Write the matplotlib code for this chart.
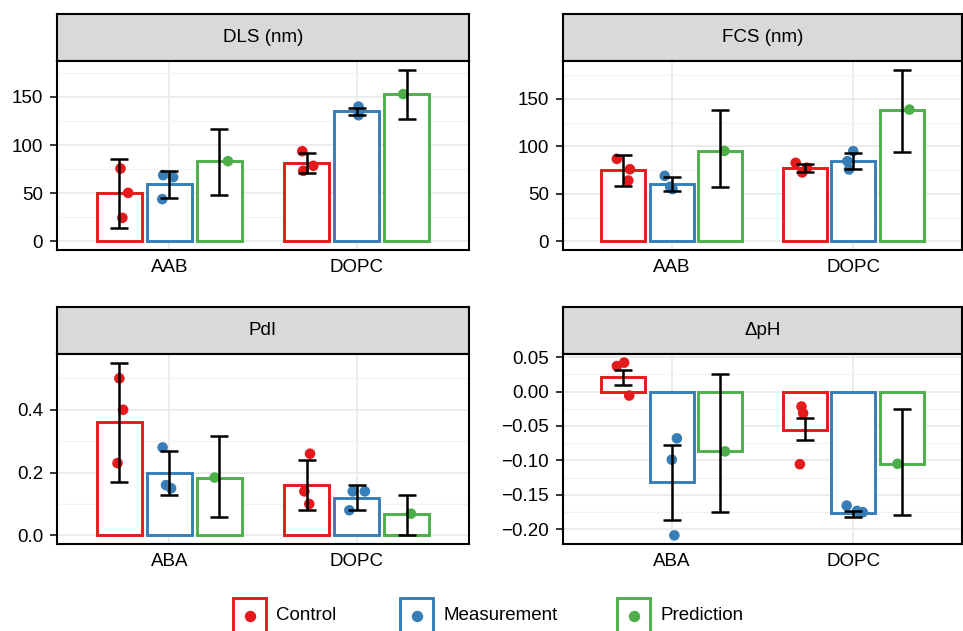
import numpy as np
import matplotlib.pyplot as plt
from matplotlib.patches import Rectangle
from matplotlib.lines import Line2D

plt.rcParams['font.family'] = ['Liberation Sans', 'DejaVu Sans']

# groups and conditions
groups_top = ['AAB', 'DOPC']
groups_bottom = ['ABA', 'DOPC']
conditions = ['Control', 'Measurement', 'Prediction']
colors = ['#E41A1C', '#377EB8', '#4DAF4A']

# bar order: group1 x (Control, Measurement, Prediction), group2 x (...)
dls_mean = [50.0, 59.5, 83.3, 81.8, 135.2, 153.1]
dls_lo = [14.2, 45.3, 48.7, 71.2, 131.7, 127.5]
dls_hi = [85.7, 72.6, 116.5, 92.3, 139.0, 178.4]
dls_pts = [[75.7, 50.4, 24.5], [68.8, 66.7, 43.9], [83.3],
           [93.7, 78.5, 73.3], [140.0, 135.0, 131.0], [153.0]]

fcs_mean = [75.4, 60.6, 95.3, 77.5, 84.8, 138.8]
fcs_lo = [58.5, 52.9, 57.1, 72.9, 76.0, 94.6]
fcs_hi = [91.5, 67.6, 138.8, 81.0, 93.2, 180.9]
fcs_pts = [[86.9, 76.0, 64.1], [69.0, 57.5, 55.0], [95.3],
           [82.7, 77.5, 72.6], [95.0, 84.5, 75.7], [138.8]]

pdi_mean = [0.36, 0.20, 0.184, 0.16, 0.119, 0.069]
pdi_lo = [0.17, 0.13, 0.057, 0.08, 0.08, 0.0]
pdi_hi = [0.55, 0.27, 0.317, 0.239, 0.16, 0.128]
pdi_pts = [[0.50, 0.40, 0.23], [0.28, 0.16, 0.15], [0.184],
           [0.26, 0.14, 0.10], [0.14, 0.14, 0.08], [0.069]]

dph_mean = [0.0208, -0.132, -0.0867, -0.0552, -0.177, -0.105]
dph_lo = [0.0092, -0.1865, -0.1744, -0.0707, -0.1827, -0.180]
dph_hi = [0.031, -0.078, 0.026, -0.039, -0.173, -0.0252]
dph_pts = [[0.042, 0.037, -0.0058], [-0.068, -0.099, -0.209], [-0.087],
           [-0.0218, -0.0315, -0.1056], [-0.1657, -0.1734, -0.1754], [-0.105]]

# horizontal jitter of the individual points (category units)
dls_jit = [[0.006, 0.047, 0.016], [-0.033, 0.02, -0.038], [0.046],
           [-0.023, 0.036, -0.018], [0.01, 0.012, 0.01], [-0.018]]
fcs_jit = [[-0.036, 0.036, 0.027], [-0.039, -0.009, 0.004], [0.023],
           [-0.05, 0.012, -0.014], [0.0, -0.032, -0.023], [0.043]]
pdi_jit = [[0.0, 0.02, -0.01], [-0.036, -0.018, 0.009], [-0.025],
           [0.018, -0.012, 0.014], [-0.021, 0.044, -0.039], [0.023]]
dph_jit = [[0.004, -0.036, 0.032], [0.028, 0.0, 0.014], [0.027],
           [-0.018, -0.009, -0.027], [-0.036, 0.021, 0.053], [-0.023]]

W, H = 963, 631
FS = 13.5
fig = plt.figure(figsize=(W / 100, H / 100), dpi=100)


def px_axes(left, top, right, bottom):
    return fig.add_axes([left / W, 1 - bottom / H, (right - left) / W, (bottom - top) / H])


def panel(box, strip_top, title, groups, mean, lo, hi, pts, jit, major, minor, fmt):
    left, top, right, bottom = box
    sax = px_axes(left, strip_top, right, top)
    sax.set_facecolor('#D9D9D9')
    sax.set_xticks([])
    sax.set_yticks([])
    for s in sax.spines.values():
        s.set_linewidth(1.5)
        s.set_color('black')
    sax.text(0.5, 0.5, title, ha='center', va='center', fontsize=FS, color='black',
             transform=sax.transAxes)

    ax = px_axes(left, top, right, bottom)
    dodge = [-0.267, 0.0, 0.267]
    k = 0
    for g in range(len(groups)):
        for c in range(3):
            x = g + dodge[c]
            ax.bar(x, mean[k], width=0.243, facecolor='white', edgecolor=colors[c],
                   linewidth=2.1, zorder=2)
            ax.scatter(x + np.array(jit[k]), pts[k], s=58, color=colors[c],
                       edgecolors='none', zorder=3)
            ax.errorbar(x, mean[k], yerr=[[mean[k] - lo[k]], [hi[k] - mean[k]]],
                        fmt='none', ecolor='black', elinewidth=1.8, capsize=6.5,
                        capthick=1.8, zorder=4)
            k += 1

    allv = [0] + list(lo) + list(hi) + [v for p in pts for v in p]
    vmin, vmax = min(allv), max(allv)
    pad = (vmax - vmin) * 0.05
    ax.set_ylim(vmin - pad, vmax + pad)
    ax.set_xlim(-0.6, len(groups) - 0.4)
    ax.set_xticks(range(len(groups)))
    ax.set_xticklabels(groups)
    ax.set_yticks(major)
    ax.set_yticklabels([fmt.format(v).replace('-', '\u2212') for v in major])
    ax.set_yticks(minor, minor=True)
    ax.grid(True, which='major', color='#EBEBEB', linewidth=1.3, zorder=0)
    ax.grid(True, which='minor', axis='y', color='#F2F2F2', linewidth=0.9, zorder=0)
    ax.set_axisbelow(True)
    ax.tick_params(axis='y', which='major', length=5, width=1.1, color='black',
                   labelsize=FS, labelcolor='black', pad=5)
    ax.tick_params(axis='y', which='minor', length=0)
    ax.tick_params(axis='x', length=0, labelsize=FS, labelcolor='black', pad=6.5)
    for s in ax.spines.values():
        s.set_linewidth(1.5)
        s.set_color('black')
    return ax


panel((57, 61, 469, 250), 14, 'DLS (nm)', groups_top, dls_mean, dls_lo, dls_hi, dls_pts,
      dls_jit, [0, 50, 100, 150], [25, 75, 125, 175], '{:.0f}')
panel((563, 61, 962, 250), 14, 'FCS (nm)', groups_top, fcs_mean, fcs_lo, fcs_hi, fcs_pts,
      fcs_jit, [0, 50, 100, 150], [25, 75, 125, 175], '{:.0f}')
panel((57, 354, 469, 544), 307, 'PdI', groups_bottom, pdi_mean, pdi_lo, pdi_hi, pdi_pts,
      pdi_jit, [0.0, 0.2, 0.4], [0.1, 0.3, 0.5], '{:.1f}')
panel((563, 354, 962, 544), 307, '\u0394pH', groups_bottom, dph_mean, dph_lo, dph_hi, dph_pts,
      dph_jit, [-0.2, -0.15, -0.1, -0.05, 0.0, 0.05],
      [-0.175, -0.125, -0.075, -0.025, 0.025], '{:.2f}')

# legend, drawn by hand so the key boxes run off the bottom like the original
legend_x = [233, 400, 617]
for x0, name, col in zip(legend_x, conditions, colors):
    fig.patches.append(Rectangle((x0 / W, 1 - 645 / H), 33 / W, 47 / H, transform=fig.transFigure,
                                 facecolor='white', edgecolor=col, linewidth=2.1))
    fig.lines.append(Line2D([(x0 + 16.5) / W], [1 - 616 / H], transform=fig.transFigure,
                            marker='o', markersize=7.2, color=col, linestyle='none'))
    fig.text((x0 + 43) / W, 1 - 616 / H, name, ha='left', va='center', fontsize=FS,
             color='black')

fig.savefig('out.png', dpi=100)
